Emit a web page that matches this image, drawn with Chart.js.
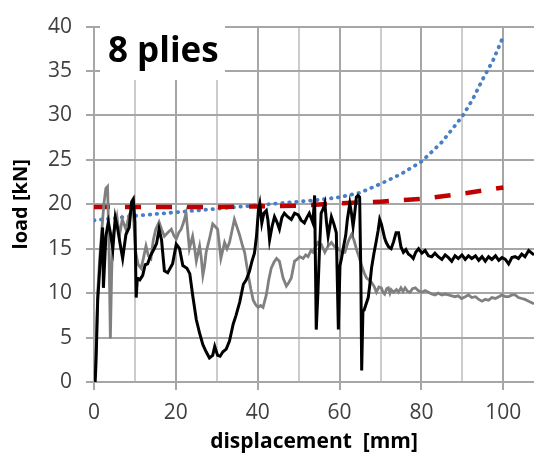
<!DOCTYPE html>
<html>
<head>
<meta charset="utf-8">
<script src="https://cdn.jsdelivr.net/npm/chart.js@4.4.0/dist/chart.umd.min.js"></script>
<style>
  html, body { margin: 0; padding: 0; background: #fff; }
</style>
</head>
<body>
<canvas id="chart-load" width="534" height="459"></canvas>
<script>
// test curve A (black)
const dispBlack = [0, 0.3, 0.6, 0.9, 1.3, 1.7, 2.1, 2.3, 2.9, 3.5, 4.0, 4.6, 5.2, 5.8, 6.4, 7.0, 7.8, 8.6, 9.2, 9.6,
  10.0, 10.3, 10.6, 11.2, 11.9, 12.5, 13.1, 13.8, 14.7, 15.3, 15.9, 16.5, 17.2, 18.0, 19.2, 20.1, 20.9, 21.7, 22.7, 23.4,
  24.1, 25.0, 25.8, 26.6, 27.4, 28.2, 29.0, 29.5, 30.2, 30.8, 31.5, 32.3, 33.1, 34.0, 34.7, 35.6, 36.5, 37.2, 38.0, 38.6,
  39.2, 39.7, 40.2, 40.5, 41.0, 41.5, 42.1, 42.5, 42.9, 43.5, 44.1, 44.7, 45.3, 45.9, 46.5, 47.3, 48.2, 49.0, 49.9, 50.6,
  51.4, 52.0, 52.6, 53.1, 53.5, 53.9, 54.3, 54.7, 55.1, 55.5, 56.0, 56.4, 56.8, 57.2, 57.6, 58.0, 58.6, 59.2, 59.7, 60.1,
  60.5, 61.0, 61.5, 61.9, 62.5, 62.9, 63.3, 63.7, 64.1, 64.5, 64.9, 65.2, 65.4, 65.7, 66.0, 66.5, 67.0, 67.4, 67.8, 68.4,
  68.9, 69.4, 69.8, 70.2, 70.6, 71.0, 71.4, 72.0, 72.6, 73.2, 73.8, 74.4, 75.0, 75.6, 76.2, 76.8, 77.4, 78.0, 78.6, 79.3,
  80.1, 80.9, 81.7, 82.5, 83.3, 84.1, 85.0, 85.8, 86.6, 87.4, 88.2, 89.0, 89.9, 90.7, 91.5, 92.3, 93.2, 94.0, 94.8, 95.6,
  96.4, 97.2, 98.1, 98.9, 99.7, 100.5, 101.3, 102.1, 102.9, 103.7, 104.5, 105.3, 106.2, 107.5];
const loadBlack = [0.5, 0.2, 4, 9.2, 12, 15, 17.4, 10.6, 16.4, 18, 16.8, 15, 18.5, 17.2, 15.5, 13.9, 16.6, 17.4, 20.3, 20.6,
  18, 9.5, 11.7, 11.5, 12, 13.2, 13.3, 14.2, 15, 15.6, 17.2, 16, 12.5, 12.3, 13.3, 15.5, 15, 13.1, 12.8, 12.2,
  9.8, 7.0, 5.5, 4.2, 3.4, 2.7, 3.0, 4.0, 3.0, 2.9, 3.4, 3.7, 4.6, 6.5, 7.5, 9.0, 11, 11.5, 12.5, 13.6,
  14.5, 16.4, 19.5, 20.1, 17.9, 19, 19.3, 18.2, 16, 17.5, 18.6, 18, 17.2, 18.5, 19, 18.6, 18.3, 19, 18.8, 18.2,
  17.9, 18.5, 19, 18.4, 17.9, 21, 5.9, 10, 15, 19, 19.5, 20.1, 18, 16.4, 17.5, 18.6, 17.8, 16.8, 5.9, 13.1,
  14, 15.3, 16.5, 18.3, 20.1, 19, 17.5, 19, 20.8, 21, 20.8, 12, 1.3, 8, 8.1, 8.8, 9.5, 11, 12.8, 14.5,
  15.7, 17, 18.3, 17.8, 17, 16.2, 15.7, 15.2, 15, 15.8, 16.8, 16.8, 15.2, 14.6, 14.9, 14.4, 14.2, 13.9, 14.6, 15,
  14.5, 14.8, 14.2, 14.1, 14.5, 14.1, 13.8, 14.3, 14.0, 13.6, 14.2, 13.9, 14.3, 13.8, 14.2, 13.9, 14.2, 13.7, 14.1, 13.6,
  14.1, 13.8, 14.2, 13.7, 14.0, 13.8, 13.3, 14.0, 14.1, 13.9, 14.4, 14.1, 14.8, 14.3];

// test curve B (grey)
const dispGrey = [0.4, 0.7, 0.9, 1.4, 1.9, 2.4, 2.9, 3.3, 3.6, 4.0, 4.3, 4.6, 5.1, 5.6, 6.2, 6.9, 7.8, 8.6, 9.5, 10.2,
  10.8, 11.5, 12.1, 12.7, 13.3, 13.9, 14.5, 15.1, 15.9, 16.5, 17.2, 18.0, 18.9, 19.5, 20.1, 20.7, 21.3, 21.9, 22.5, 22.9,
  23.3, 24.1, 24.6, 25.0, 25.8, 26.2, 26.6, 27.0, 27.4, 28.2, 29.0, 29.6, 30.2, 31.0, 31.9, 32.5, 33.1, 33.7, 34.3, 35.1,
  35.6, 36.3, 36.8, 37.7, 38.3, 38.9, 39.5, 40.1, 40.7, 41.3, 42.1, 42.7, 43.3, 44.0, 44.6, 45.3, 46.2, 47.0, 47.6, 48.2,
  49.0, 49.6, 50.3, 51.1, 51.7, 52.3, 53.0, 53.5, 54.1, 54.7, 55.5, 56.4, 57.2, 58.0, 58.8, 59.7, 60.5, 61.3, 62.1, 62.9,
  63.5, 64.1, 64.8, 65.4, 66.0, 66.6, 67.2, 67.8, 68.4, 69.0, 69.6, 70.2, 70.6, 71.0, 71.5, 71.9, 72.3, 72.6, 73.2, 73.9,
  74.4, 75.0, 75.5, 76.0, 76.6, 77.2, 77.8, 78.5, 79.2, 80.1, 80.9, 81.7, 82.5, 83.3, 84.1, 85.0, 85.8, 86.6, 87.4, 88.2,
  89.0, 89.8, 90.7, 91.5, 92.3, 93.2, 94.0, 94.8, 95.6, 96.4, 97.2, 98.1, 98.9, 99.7, 100.5, 101.3, 102.1, 102.9, 103.7, 104.5,
  105.3, 106.2, 107.5];
const loadGrey = [0.5, 7, 10, 14, 17, 20, 21.8, 22, 17, 4.9, 12, 16.4, 17.5, 18.6, 16.4, 18.3, 17.2, 18.8, 19.7, 14.6,
  13.2, 12.8, 14, 15.3, 14.2, 13.9, 16, 17.2, 18, 17.2, 16.4, 16.8, 17.2, 16.5, 16.1, 16.8, 17.2, 18, 19, 17,
  15, 16.4, 15, 13.6, 15.3, 14, 12, 13, 14.6, 16.1, 17.8, 17.5, 17.2, 13.9, 15.7, 15, 15.7, 17, 18.3, 17.2,
  16.5, 15.3, 14.6, 12, 10.5, 9.2, 8.7, 8.4, 8.6, 8.4, 9.8, 11.5, 12.8, 13.5, 13.9, 13.6, 11.7, 10.8, 11.2, 11.7,
  13.6, 13.8, 14.1, 13.9, 14.3, 14.1, 14.8, 14.6, 15.2, 15.7, 15.5, 14.6, 15.3, 15.7, 15.2, 15, 14.6, 14.6, 15.8, 16.6,
  16, 15, 14, 13.1, 12.3, 11.7, 11.5, 11.2, 10.8, 10.1, 10.7, 10.6, 10.1, 9.9, 10.5, 10.6, 10.0, 10.4, 10.1, 10.4,
  10.1, 10.6, 10.2, 10.6, 10.2, 10.1, 10.5, 10.6, 10.3, 10.1, 10.3, 10.1, 9.9, 9.8, 10.0, 9.8, 9.9, 9.8, 9.7, 9.6,
  9.7, 9.4, 9.6, 9.8, 9.5, 9.6, 9.3, 9.1, 9.3, 9.2, 9.5, 9.4, 9.6, 9.8, 9.6, 9.6, 9.8, 9.8, 9.5, 9.4,
  9.3, 9.1, 8.8];

// model (red dashed)
const dispModelA = [0, 10, 20, 30, 40, 50, 60, 70, 80, 90, 100];
const loadModelA = [19.7, 19.7, 19.7, 19.7, 19.75, 19.85, 20.1, 20.3, 20.6, 21.2, 21.9];

// model (blue dotted)
const dispModelB = [0, 10, 20, 30, 40, 50, 55, 60, 65, 70, 75, 80, 85, 90, 92.5, 95, 97.5, 100];
const loadModelB = [18.2, 18.7, 19.1, 19.5, 19.9, 20.3, 20.5, 20.8, 21.3, 22.3, 23.4, 24.8, 27, 29.9, 31.8, 34.1, 36.2, 38.9];

const xTickLabels = [0, 20, 40, 60, 80, 100];

const toPts = (xs, ys) => xs.map((x, i) => ({ x: x, y: ys[i] }));

// white label box with "8 plies"
const pliesLabel = {
  id: 'pliesLabel',
  afterDraw(chart) {
    const ctx = chart.ctx;
    ctx.save();
    ctx.fillStyle = '#fff';
    ctx.fillRect(100, 22, 125, 58);
    ctx.fillStyle = '#000';
    ctx.font = 'bold 35px "Open Sans"';
    ctx.textBaseline = 'alphabetic';
    ctx.fillText('8 plies', 108, 62);
    ctx.restore();
  }
};

const ctx = document.getElementById('chart-load').getContext('2d');
const myChart = new Chart(ctx, {
  type: 'scatter',
  data: {
    datasets: [
      {
        label: 'test A',
        data: toPts(dispBlack, loadBlack),
        showLine: true,
        borderColor: '#000',
        borderWidth: 3,
        pointRadius: 0
      },
      {
        label: 'test B',
        data: toPts(dispGrey, loadGrey),
        showLine: true,
        borderColor: '#808080',
        borderWidth: 2.8,
        pointRadius: 0
      },
      {
        label: 'model A',
        data: toPts(dispModelA, loadModelA),
        showLine: true,
        borderColor: '#c00000',
        borderWidth: 4.5,
        borderDash: [16, 15],
        pointRadius: 0
      },
      {
        label: 'model B',
        data: toPts(dispModelB, loadModelB),
        showLine: true,
        borderColor: '#4a7fc6',
        borderWidth: 3.8,
        borderDash: [0.5, 6.5],
        borderCapStyle: 'round',
        pointRadius: 0
      }
    ]
  },
  options: {
    responsive: false,
    animation: false,
    devicePixelRatio: 1,
    layout: { padding: { top: 16, left: 0, right: 0, bottom: 0 } },
    plugins: {
      legend: { display: false },
      tooltip: { enabled: false }
    },
    scales: {
      x: {
        type: 'linear',
        min: 0,
        max: 107.5,
        afterFit: (scale) => { scale.height = 77; },
        ticks: {
          stepSize: 10,
          includeBounds: false,
          maxRotation: 0,
          autoSkip: false,
          padding: 10,
          color: '#404040',
          font: { family: 'Open Sans', size: 21 },
          callback: (v) => xTickLabels.includes(v) ? String(v) : ''
        },
        grid: {
          color: (c) => (c.tick && c.tick.value % 20 === 0) ? '#a6a6a6' : '#cccccc',
          lineWidth: 2,
          tickLength: 8,
          tickColor: (c) => (c.tick && c.tick.value % 20 === 0) ? '#a6a6a6' : 'rgba(0,0,0,0)'
        },
        border: { color: '#a6a6a6', width: 2 },
        title: {
          display: true,
          text: 'displacement  [mm]',
          color: '#000',
          font: { family: 'Open Sans', size: 21, weight: 'bold' },
          padding: { top: 0, bottom: 4 }
        }
      },
      y: {
        min: 0,
        max: 40,
        afterFit: (scale) => { scale.width = 94; },
        ticks: {
          stepSize: 5,
          padding: 14,
          color: '#404040',
          font: { family: 'Open Sans', size: 21 }
        },
        grid: {
          color: '#a6a6a6',
          lineWidth: 2,
          tickLength: 8
        },
        border: { color: '#a6a6a6', width: 2 },
        title: {
          display: true,
          text: 'load [kN]',
          color: '#000',
          font: { family: 'Open Sans', size: 20, weight: 'bold' },
          padding: { top: 9, bottom: 0 }
        }
      }
    }
  },
  plugins: [pliesLabel]
});
</script>
</body>
</html>
